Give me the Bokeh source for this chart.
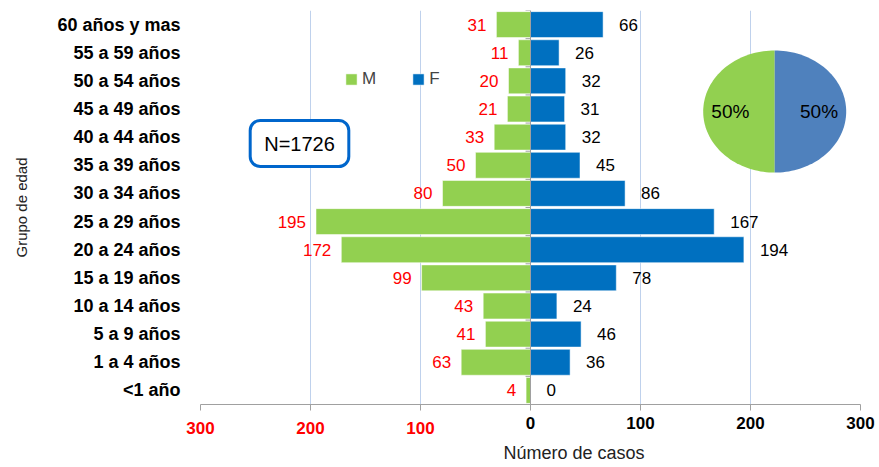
import numpy as np
from bokeh.plotting import figure
from bokeh.models import (FactorRange, Range1d, FixedTicker, Span, Label, Legend,
                          LegendItem, ColumnDataSource, LinearAxis, Title)
from bokeh.core.properties import value
from bokeh.embed import file_html
from bokeh.resources import INLINE

# ---------------- data ----------------
groups = ["<1 año", "1 a 4 años", "5 a 9 años", "10 a 14 años", "15 a 19 años",
          "20 a 24 años", "25 a 29 años", "30 a 34 años", "35 a 39 años",
          "40 a 44 años", "45 a 49 años", "50 a 54 años", "55 a 59 años",
          "60 años y mas"]
male = [4, 63, 41, 43, 99, 172, 195, 80, 50, 33, 21, 20, 11, 31]
female = [0, 36, 46, 24, 78, 194, 167, 86, 45, 32, 31, 32, 26, 66]
x_ticks = [-300, -200, -100, 0, 100, 200, 300]
sex_labels = ["M", "F"]
pie_shares = [50, 50]
total_n = 1726

# ---------------- style ----------------
FONT = "Liberation Sans"
GREEN = "#92D050"
BLUE = "#0070C0"
PIE_BLUE = "#4F81BD"
GRID = "#BFD1EC"
AXIS_GRAY = "#A0A0A0"

p = figure(width=879, height=467, y_range=FactorRange(factors=groups),
           x_range=Range1d(-300, 300), output_backend="svg", toolbar_location=None,
           min_border_left=200, min_border_right=19, min_border_top=10,
           min_border_bottom=63)
p.outline_line_color = None
p.background_fill_color = "white"

# grid
p.ygrid.grid_line_color = None
p.xgrid.ticker = FixedTicker(ticks=x_ticks)
p.xgrid.grid_line_color = GRID

# x axis (A): line, ticks, red labels on the negative side
xa = p.xaxis[0]
xa.ticker = FixedTicker(ticks=x_ticks)
xa.major_label_overrides = {t: (str(abs(t)) if t < 0 else "") for t in x_ticks}
xa.axis_line_color = AXIS_GRAY
xa.major_tick_line_color = AXIS_GRAY
xa.major_tick_out = 6
xa.major_tick_in = 0
xa.minor_tick_line_color = None
xa.major_label_standoff = 11
xa.major_label_text_font = FONT
xa.major_label_text_font_style = "bold"
xa.major_label_text_font_size = "17px"
xa.major_label_text_color = "#FF0000"

# x axis (B): black labels on the positive side
xb = LinearAxis(ticker=FixedTicker(ticks=x_ticks))
xb.major_label_overrides = {t: ("" if t < 0 else str(abs(t))) for t in x_ticks}
xb.axis_line_color = None
xb.major_tick_line_color = None
xb.minor_tick_line_color = None
xb.major_tick_out = 0
xb.major_tick_in = 0
xb.major_label_standoff = -20
xb.major_label_text_font = FONT
xb.major_label_text_font_style = "bold"
xb.major_label_text_font_size = "17px"
xb.major_label_text_color = "black"
p.add_layout(xb, "below")

# x axis title (offset to the right, as in the original)
p.add_layout(Title(text="Número de casos", align="left", offset=303,
                   text_font=FONT, text_font_style="normal", text_font_size="18px",
                   text_color="#222222", standoff=8), "below")

# y axis
p.yaxis.axis_line_color = None
p.yaxis.major_tick_line_color = None
p.yaxis.major_tick_out = 0
p.yaxis.major_label_standoff = 20
p.yaxis.major_label_text_font = FONT
p.yaxis.major_label_text_font_style = "bold"
p.yaxis.major_label_text_font_size = "18px"
p.yaxis.major_label_text_color = "black"
p.yaxis.axis_label = "Grupo de edad"
p.yaxis.axis_label_text_font = FONT
p.yaxis.axis_label_text_font_style = "normal"
p.yaxis.axis_label_text_font_size = "15px"
p.yaxis.axis_label_text_color = "#222222"
p.yaxis.axis_label_standoff = 24

# bars
src = ColumnDataSource(dict(
    g=groups,
    m_left=[-v for v in male],
    m=male,
    f=female,
    zero=[0] * len(groups),
    m_lab=[str(v) for v in male],
    f_lab=[str(v) for v in female],
))
rm = p.hbar(y="g", left="m_left", right="zero", height=0.92, fill_color=GREEN,
            line_color="white", line_alpha=0.5, line_width=1, source=src)
rf = p.hbar(y="g", left="zero", right="f", height=0.92, fill_color=BLUE,
            line_color="white", line_alpha=0.5, line_width=1, source=src)

# zero axis line with boundary ticks
p.add_layout(Span(location=0, dimension="height", line_color=AXIS_GRAY, line_width=1))
bounds = list(range(len(groups) + 1))
p.segment(x0=[-4.5] * len(bounds), x1=[0] * len(bounds), y0=bounds, y1=bounds,
          line_color=AXIS_GRAY, line_width=1)

# value labels
p.text(x="m_left", y="g", text="m_lab", x_offset=-10, text_align="right",
       text_baseline="middle", text_color="#FF0000", text_font=value(FONT),
       text_font_size="17px", source=src)
p.text(x="f", y="g", text="f_lab", x_offset=16, text_align="left",
       text_baseline="middle", text_color="black", text_font=value(FONT),
       text_font_size="17px", source=src)

# pie inset (ellipse drawn in data space)
cx, cy, rx, ry = 222.0, 10.41, 65.0, 2.17
fr = np.array(pie_shares, dtype=float) / sum(pie_shares)
starts = np.pi / 2 + 2 * np.pi * np.concatenate([[0], np.cumsum(fr)[:-1]])
ends = starts + 2 * np.pi * fr
xs, ys, lx, ly, lt = [], [], [], [], []
for a0, a1, f in zip(starts, ends, fr):
    th = np.linspace(a0, a1, 80)
    xs.append([cx] + list(cx + rx * np.cos(th)))
    ys.append([cy] + list(cy + ry * np.sin(th)))
    mid = (a0 + a1) / 2
    lx.append(cx + 0.62 * rx * np.cos(mid))
    ly.append(cy + 0.62 * ry * np.sin(mid))
    lt.append(f"{round(f * 100)}%")
p.patches(xs=xs, ys=ys, fill_color=[GREEN, PIE_BLUE], line_color=None)
p.text(x=lx, y=ly, text=lt, text_align="center", text_baseline="middle",
       text_color="black", text_font=value(FONT), text_font_size="19px")

# legend
legend = Legend(items=[LegendItem(label=sex_labels[0], renderers=[rm]),
                       LegendItem(label=sex_labels[1], renderers=[rf])],
                orientation="horizontal", location=(144, 315),
                glyph_width=14, glyph_height=14, label_standoff=4, spacing=35,
                padding=0, margin=0, border_line_color=None,
                background_fill_alpha=0, label_text_font=FONT,
                label_text_font_size="17px", label_width=10)
p.add_layout(legend)

# N box
p.add_layout(Label(x=99, y=261, x_units="screen", y_units="screen",
                   text=f"N={total_n}", text_align="center", text_baseline="middle",
                   text_font=FONT, text_font_size="20px", text_color="black",
                   border_line_color="#0066CC", border_line_width=3,
                   border_radius=10, background_fill_color="white",
                   padding=dict(left=14, right=14, top=12, bottom=12)))

open("out.html", "w").write(file_html(p, INLINE))
